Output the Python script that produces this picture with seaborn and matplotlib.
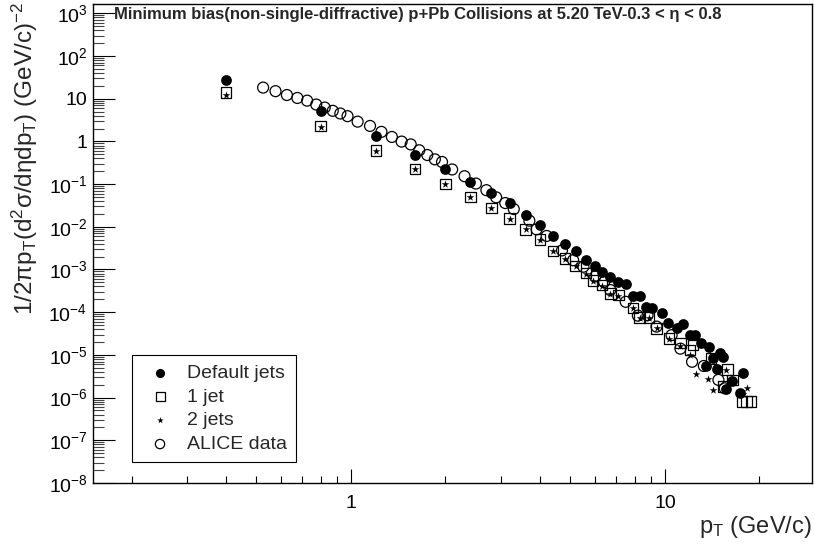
import numpy as np
import seaborn as sns
import matplotlib
matplotlib.use('Agg')
import matplotlib.pyplot as plt
from matplotlib.ticker import FixedLocator, FuncFormatter, NullFormatter

# valeurs
pt_default = [0.4, 0.8, 1.2, 1.6, 2.0, 2.4, 2.8, 3.2, 3.6, 4.0, 4.4, 4.8, 5.2, 5.6, 6.0, 6.3,
              6.7, 7.1, 7.5, 7.9, 8.3, 8.7, 9.1, 9.8, 10.2, 10.9, 11.4, 12.0, 12.5, 13.0, 13.5,
              13.8, 14.2, 14.6, 15.0, 15.3, 15.7, 16.3, 17.3, 17.7]
y_default = [28, 5.1, 1.32, 0.49, 0.22, 0.111, 0.062, 0.036, 0.0187, 0.011, 0.006, 0.0039,
             0.0027, 0.00166, 0.0012, 8.7e-4, 6.6e-4, 5e-4, 4.6e-4, 2.4e-4, 2.4e-4, 1.3e-4,
             1.25e-4, 9.5e-5, 5.6e-5, 4.3e-5, 5.3e-5, 2.9e-5, 2.9e-5, 1.9e-5, 5.5e-6, 1.5e-5,
             8.5e-6, 4.6e-6, 1.1e-5, 9e-6, 1.6e-6, 2.5e-6, 1.3e-6, 3.7e-6]

pt_1jet = [0.4, 0.8, 1.2, 1.6, 2.0, 2.4, 2.8, 3.2, 3.6, 4.0, 4.4, 4.8, 5.2, 5.6, 5.9, 6.3, 6.7,
           7.1, 7.9, 8.3, 8.9, 9.4, 10.3, 11.2, 12.0, 12.3, 14.0, 15.3, 15.8, 16.4, 17.6, 18.2, 18.8]
y_1jet = [14, 2.3, 0.61, 0.225, 0.10, 0.050, 0.0278, 0.0157, 0.0087, 0.0050, 0.0027, 0.0018,
          0.0012, 8.2e-4, 5.6e-4, 4.3e-4, 2.7e-4, 2.5e-4, 1.26e-4, 7.5e-5, 7.4e-5, 4.2e-5,
          2.4e-5, 1.9e-5, 1.3e-5, 1.7e-5, 8.3e-6, 1.8e-6, 4.6e-6, 2.6e-6, 8e-7, 8e-7, 8e-7]

pt_2jets = [0.4, 0.8, 1.2, 1.6, 2.0, 2.4, 2.8, 3.2, 3.6, 4.0, 4.4, 4.8, 5.2, 5.6, 5.9, 6.3, 6.7,
            7.1, 7.9, 8.3, 8.9, 9.4, 10.3, 11.2, 12.0, 12.6, 13.7, 14.2, 15.7, 16.4, 17.7, 18.2]
y_2jets = [12, 2.2, 0.60, 0.22, 0.10, 0.050, 0.027, 0.0155, 0.0087, 0.0049, 0.0027, 0.0018,
           0.0012, 8e-4, 5.5e-4, 4.2e-4, 2.7e-4, 2.4e-4, 1.25e-4, 7.5e-5, 7.3e-5, 4.2e-5,
           2.4e-5, 1.6e-5, 1e-5, 3.6e-6, 2.7e-6, 1.5e-6, 4.5e-6, 2.6e-6, 1.2e-6, 1.7e-6]

pt_alice = [0.525, 0.575, 0.625, 0.675, 0.725, 0.775, 0.825, 0.875, 0.925, 0.975, 1.05, 1.15,
            1.25, 1.35, 1.45, 1.55, 1.65, 1.75, 1.85, 1.95, 2.1, 2.3, 2.5, 2.7, 2.9, 3.1, 3.3,
            3.7, 3.9, 4.2, 4.7, 5.1, 5.5, 6.0, 6.4, 6.7, 7.5, 8.2, 8.8, 9.4, 10.5, 11.2, 12.2,
            13.3, 14.8, 15.5]
y_alice = [18.2, 15, 12.2, 10.4, 9.0, 7.3, 6.2, 5.2, 4.5, 3.9, 2.9, 2.3, 1.67, 1.27, 0.99, 0.85,
           0.62, 0.48, 0.38, 0.33, 0.22, 0.153, 0.103, 0.072, 0.049, 0.036, 0.026, 0.0139,
           0.0087, 0.0061, 0.0028, 0.00165, 0.00116, 6.9e-4, 5.1e-4, 3.3e-4, 1.75e-4, 8.3e-5,
           8.5e-5, 4.6e-5, 2.9e-5, 1.4e-5, 6.9e-6, 5.5e-6, 2.6e-6, 1.65e-6]

title = "Minimum bias(non-single-diffractive) p+Pb Collisions at 5.20 TeV-0.3 < \u03b7 < 0.8"

sns.set_style('ticks')
plt.rcParams['font.family'] = ['Liberation Sans', 'DejaVu Sans']
plt.rcParams['mathtext.fontset'] = 'custom'
plt.rcParams['mathtext.rm'] = 'Liberation Sans'
plt.rcParams['mathtext.it'] = 'Liberation Sans'
plt.rcParams['mathtext.bf'] = 'Liberation Sans:bold'

fig = plt.figure(figsize=(8.15, 5.48), dpi=100)
ax = fig.add_axes([93 / 815, 1 - 483 / 548, (812 - 93) / 815, (483 - 4) / 548])

sns.scatterplot(x=pt_alice, y=y_alice, ax=ax, marker='o', s=62, facecolor='none',
                edgecolor='black', linewidth=0.9, label='ALICE data')
sns.scatterplot(x=pt_default, y=y_default, ax=ax, marker='o', s=60, color='black',
                edgecolor='black', linewidth=0, label='Default jets')
sns.scatterplot(x=pt_1jet, y=y_1jet, ax=ax, marker='s', s=58, facecolor='none',
                edgecolor='black', linewidth=0.9, label='1 jet')
sns.scatterplot(x=pt_2jets, y=y_2jets, ax=ax, marker='*', s=34, color='black',
                edgecolor='black', linewidth=0, label='2 jets')

ax.set_xscale('log')
ax.set_yscale('log')
ax.set_xlim(0.1508, 29.4)
ax.set_ylim(1e-8, 1.65e3)

# graduations style ROOT
dec = np.arange(-8, 4)
ax.yaxis.set_major_locator(FixedLocator(10.0 ** dec))
ax.yaxis.set_minor_locator(FixedLocator([m * 10.0 ** d for d in dec for m in range(2, 10)]))


def ylab(v, pos):
    e = int(round(np.log10(v)))
    if e == 0:
        return '1'
    if e == 1:
        return '10'
    return r'$\mathregular{10^{%d}}$' % e


ax.yaxis.set_major_formatter(FuncFormatter(ylab))
ax.yaxis.set_minor_formatter(NullFormatter())
ax.xaxis.set_major_locator(FixedLocator([1, 10]))
ax.xaxis.set_minor_locator(FixedLocator([0.2, 0.3, 0.4, 0.5, 0.6, 0.7, 0.8, 0.9,
                                         2, 3, 4, 5, 6, 7, 8, 9, 20]))
ax.xaxis.set_major_formatter(FuncFormatter(lambda v, p: '%g' % v))
ax.xaxis.set_minor_formatter(NullFormatter())

ax.tick_params(axis='both', which='both', direction='in', top=False, right=False,
               colors='black', labelsize=14, width=0.8)
ax.tick_params(axis='y', which='major', length=16, pad=4)
ax.tick_params(axis='y', which='minor', length=8, color='#444444')
ax.tick_params(axis='x', which='major', length=10, pad=9)
ax.tick_params(axis='x', which='minor', length=5)
for sp in ax.spines.values():
    sp.set_visible(True)
    sp.set_color('black')
    sp.set_linewidth(1.0)

# légende
h, l = ax.get_legend_handles_labels()
order = ['Default jets', '1 jet', '2 jets', 'ALICE data']
hh = [h[l.index(o)] for o in order]
leg = ax.legend(hh, order, loc='lower left', bbox_to_anchor=(0.054, 0.044), borderaxespad=0,
                fontsize=14, frameon=True, fancybox=False, edgecolor='black',
                labelspacing=0.32, handletextpad=0.4, borderpad=0.45, framealpha=1,
                markerscale=0.85)
leg.get_frame().set_linewidth(0.8)

fig.text(114 / 815, 1 - 15 / 548, title, fontsize=12, fontweight='bold', ha='left', va='center')
fig.text(812 / 815, 1 - 527 / 548, r'$\mathregular{p_T}$ (GeV/c)', fontsize=17,
         ha='right', va='center')
fig.text(25 / 815, 1 - 2 / 548,
         r'$\mathregular{1/2\pi p_T(d^2\sigma/d\eta dp_T)}$ (GeV/c)$^{\mathregular{-2}}$',
         fontsize=17.5, rotation=90, ha='center', va='top')

fig.savefig('out.png', dpi=100)
